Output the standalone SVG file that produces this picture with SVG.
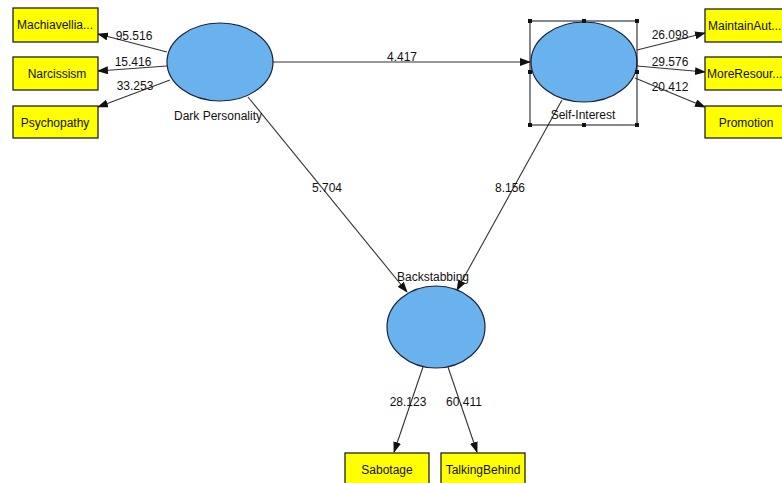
<svg xmlns="http://www.w3.org/2000/svg" width="782" height="483" viewBox="0 0 782 483">
<style>
text{font-family:"Liberation Sans",Arial,sans-serif;font-size:12px;fill:#111;}
.lv{fill:#6AB2EE;stroke:#1C2233;stroke-width:1.2;}
.mv{fill:#FFFF00;stroke:#222;stroke-width:1.3;}
.c{stroke:#333;stroke-width:1.1;fill:none;marker-end:url(#ah);}
.h{fill:#111;}
</style>
<defs>
<marker id="ah" markerWidth="11" markerHeight="8" refX="10" refY="4" orient="auto" markerUnits="userSpaceOnUse">
<path d="M0,0 L11,4 L0,8 Z" fill="#111"/>
</marker>
</defs>
<rect width="782" height="483" fill="#fff"/>
<g id="connectors">
<line class="c" x1="167" y1="52" x2="98" y2="34"/>
<line class="c" x1="167" y1="66" x2="98" y2="71"/>
<line class="c" x1="170" y1="80" x2="98" y2="107"/>
<line class="c" x1="273" y1="62" x2="530" y2="62"/>
<line class="c" x1="637" y1="50" x2="705" y2="33"/>
<line class="c" x1="637" y1="66" x2="705" y2="72"/>
<line class="c" x1="635" y1="78" x2="705" y2="107"/>
<line class="c" x1="248" y1="97" x2="407" y2="292"/>
<line class="c" x1="562" y1="100" x2="457" y2="290"/>
<line class="c" x1="423" y1="367" x2="394" y2="452"/>
<line class="c" x1="448" y1="367" x2="477" y2="452"/>
<text x="134" y="40" text-anchor="middle">95.516</text>
<text x="133" y="66" text-anchor="middle">15.416</text>
<text x="135" y="90" text-anchor="middle">33.253</text>
<text x="402" y="61" text-anchor="middle">4.417</text>
<text x="670" y="39" text-anchor="middle">26.098</text>
<text x="670" y="66" text-anchor="middle">29.576</text>
<text x="670" y="91" text-anchor="middle">20.412</text>
<text x="327" y="192" text-anchor="middle">5.704</text>
<text x="510" y="192" text-anchor="middle">8.156</text>
<text x="408" y="406" text-anchor="middle">28.123</text>
<text x="464" y="406" text-anchor="middle">60.411</text>
</g>
<g id="dark-personality">
<ellipse class="lv" cx="220" cy="62" rx="53" ry="39"/>
<text x="218" y="120" text-anchor="middle">Dark Personality</text>
</g>
<g id="self-interest">
<ellipse class="lv" cx="584" cy="62" rx="53" ry="40"/>
<text x="583" y="119" text-anchor="middle">Self-Interest</text>
<rect x="530" y="21" width="107" height="104" fill="none" stroke="#111" stroke-width="1"/>
<rect class="h" x="528" y="19" width="4" height="4"/><rect class="h" x="582" y="19" width="4" height="4"/><rect class="h" x="635" y="19" width="4" height="4"/>
<rect class="h" x="528" y="70" width="4" height="4"/><rect class="h" x="635" y="70" width="4" height="4"/>
<rect class="h" x="528" y="123" width="4" height="4"/><rect class="h" x="582" y="123" width="4" height="4"/><rect class="h" x="635" y="123" width="4" height="4"/>
</g>
<g id="backstabbing">
<ellipse class="lv" cx="436" cy="327" rx="49" ry="41"/>
<text x="433" y="281" text-anchor="middle">Backstabbing</text>
</g>
<g id="machiavellianism"><rect class="mv" x="13" y="8" width="85" height="34"/><text x="55" y="29" text-anchor="middle">Machiavellia...</text></g>
<g id="narcissism"><rect class="mv" x="13" y="57" width="85" height="33"/><text x="57" y="78" text-anchor="middle">Narcissism</text></g>
<g id="psychopathy"><rect class="mv" x="13" y="106" width="85" height="32"/><text x="55" y="127" text-anchor="middle">Psychopathy</text></g>
<g id="maintain"><rect class="mv" x="705" y="9" width="84" height="33"/><text x="708" y="30">MaintainAut...</text></g>
<g id="moreresour"><rect class="mv" x="705" y="57" width="84" height="33"/><text x="707" y="78">MoreResour...</text></g>
<g id="promotion"><rect class="mv" x="705" y="106" width="84" height="32"/><text x="746" y="127" text-anchor="middle">Promotion</text></g>
<g id="sabotage"><rect class="mv" x="345" y="453" width="84" height="34"/><text x="387" y="474" text-anchor="middle">Sabotage</text></g>
<g id="talkingbehind"><rect class="mv" x="441" y="453" width="84" height="34"/><text x="483" y="474" text-anchor="middle">TalkingBehind</text></g>
</svg>
